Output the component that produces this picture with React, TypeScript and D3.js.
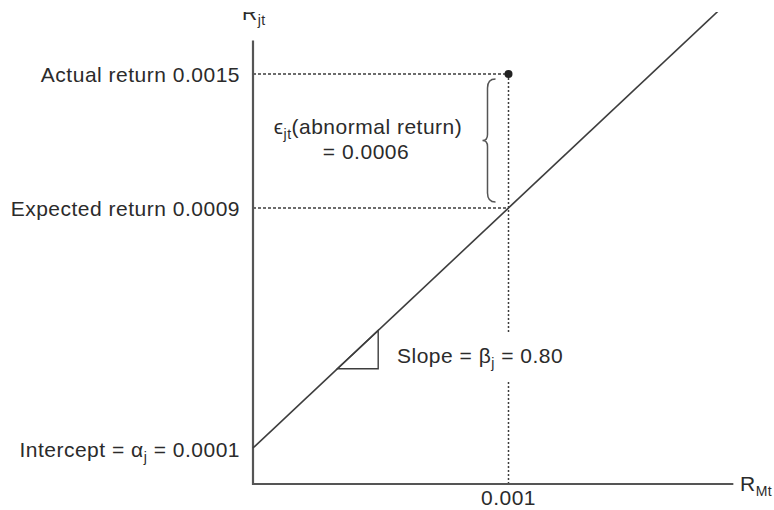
import React from "react";
import * as d3 from "d3";

const W = 774;
const H = 510;

// model values
const alpha = 0.0001;
const beta = 0.8;
const marketReturn = 0.001;
const actualReturn = 0.0015;
const expectedReturn = alpha + beta * marketReturn; // 0.0009
const abnormalReturn = actualReturn - expectedReturn; // 0.0006

// schematic y levels (not to scale in the original figure)
const yLevels = [0, alpha, expectedReturn, actualReturn];
const xTicks = [marketReturn];
const slopeRun = [0.00033, 0.00049];

const FONT = "'Liberation Sans', Arial, Helvetica, sans-serif";
const INK = "#2b2b2b";
const LINE = "#3d3d3d";

const f4 = d3.format(".4f");
const f3 = d3.format(".3f");
const f2 = d3.format(".2f");

export default function App() {
  const x = d3.scaleLinear().domain([0, 0.001]).range([253, 508.5]);
  const y = d3.scaleLinear().domain(yLevels).range([484, 448, 208, 74]);
  // the regression line itself is straight: extend the alpha..expected segment
  const yLine = d3
    .scaleLinear()
    .domain([alpha, expectedReturn])
    .range([y(alpha), y(expectedReturn)]);
  const fit = (m: number) => alpha + beta * m;

  const x0 = x(0);
  const y0 = y(0);
  const xEnd = x(0.00188);
  const yTop = y(0.00165);

  const line = d3
    .line<number>()
    .x((m) => x(m))
    .y((m) => yLine(fit(m)));
  const linePts = [0, 0.0019];

  const tri = [
    [x(slopeRun[0]), yLine(fit(slopeRun[0]))],
    [x(slopeRun[1]), yLine(fit(slopeRun[0]))],
    [x(slopeRun[1]), yLine(fit(slopeRun[1]))],
  ];
  const triPath = d3.line()(tri as [number, number][]) + "Z";

  const xm = x(marketReturn);
  const ya = y(actualReturn);
  const ye = y(expectedReturn);

  // curly brace between actual and expected
  const bTop = ya + 5;
  const bBot = ye - 6;
  const bMid = (bTop + bBot) / 2;
  const spine = xm - 21;
  const tip = spine - 5;
  const bEnd = spine + 8;
  const brace = `M${bEnd},${bTop} Q${spine},${bTop} ${spine},${bTop + 9} L${spine},${bMid - 6} Q${spine},${bMid} ${tip},${bMid} Q${spine},${bMid} ${spine},${bMid + 6} L${spine},${bBot - 9} Q${spine},${bBot} ${bEnd},${bBot}`;

  const slopeLabelY = 363;
  const labelX = x0 - 13;
  const fs = 21;
  const sub = 14;

  return (
    <svg
      width={W}
      height={H}
      style={{ position: "absolute", left: 0, top: 0, background: "#fff" }}
      fontFamily={FONT}
    >
      <defs>
        <clipPath id="crop">
          <rect x={0} y={12} width={W} height={H - 12} />
        </clipPath>
      </defs>
      <rect width={W} height={H} fill="#fff" />
      <g clipPath="url(#crop)">
        {/* dashed reference lines */}
        {[actualReturn, expectedReturn].map((v) => (
          <line
            key={v}
            x1={x0}
            x2={xm}
            y1={y(v)}
            y2={y(v)}
            stroke={LINE}
            strokeWidth={1.5}
            strokeDasharray="3,2"
          />
        ))}
        <line x1={xm} x2={xm} y1={ya} y2={slopeLabelY - 30} stroke={LINE} strokeWidth={1.5} strokeDasharray="2,2" />
        <line x1={xm} x2={xm} y1={slopeLabelY + 19} y2={y0} stroke={LINE} strokeWidth={1.5} strokeDasharray="2,2" />

        {/* axes */}
        <line x1={x0} x2={x0} y1={yTop} y2={y0 + 1} stroke="#555" strokeWidth={2.2} />
        <line x1={x0 - 1} x2={xEnd} y1={y0} y2={y0} stroke="#555" strokeWidth={2.2} />

        {/* regression line */}
        <path d={line(linePts) || ""} fill="none" stroke={LINE} strokeWidth={1.6} />
        <path d={triPath} fill="none" stroke={LINE} strokeWidth={1.4} />

        {/* actual return point */}
        <circle cx={xm} cy={ya} r={4} fill="#222" />

        {/* brace */}
        <path d={brace} fill="none" stroke="#555" strokeWidth={1.5} />

        {/* texts */}
        <g fill={INK} fontSize={fs} letterSpacing={0.5}>
          <text x={242} y={20}>
            R<tspan fontSize={sub} dy={5}>jt</tspan>
          </text>
          <text x={740} y={491}>
            R<tspan fontSize={sub} dy={5}>Mt</tspan>
          </text>
          <text x={labelX} y={ya + 8} textAnchor="end">
            Actual return {f4(actualReturn)}
          </text>
          <text x={labelX} y={ye + 8} textAnchor="end">
            Expected return {f4(expectedReturn)}
          </text>
          <text x={labelX} y={y(alpha) + 9} textAnchor="end">
            Intercept = α<tspan fontSize={sub} dy={5}>j</tspan>
            <tspan dy={-5}> = {f4(alpha)}</tspan>
          </text>
          {xTicks.map((t) => (
            <text key={t} x={x(t)} y={505} textAnchor="middle">
              {f3(t)}
            </text>
          ))}
          <text x={397} y={slopeLabelY}>
            Slope = β<tspan fontSize={sub} dy={5}>j</tspan>
            <tspan dy={-5}> = {f2(beta)}</tspan>
          </text>
          <text x={368} y={134} textAnchor="middle">
            ϵ<tspan fontSize={sub} dy={5}>jt</tspan>
            <tspan dy={-5}>(abnormal return)</tspan>
          </text>
          <text x={366} y={159} textAnchor="middle">
            = {f4(abnormalReturn)}
          </text>
        </g>
      </g>
    </svg>
  );
}
